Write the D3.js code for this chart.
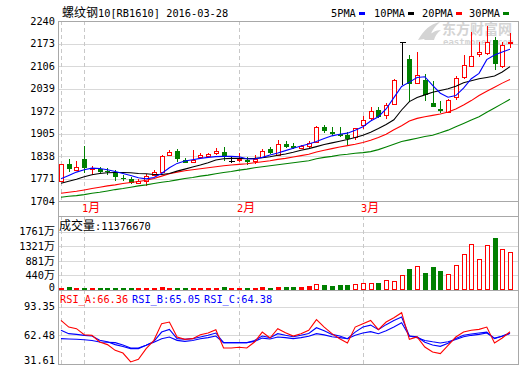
<!DOCTYPE html>
<html>
<head>
<meta charset="utf-8">
<script src="https://cdn.jsdelivr.net/npm/d3@7"></script>
<style>
body { margin: 0; background: #fff; }
svg { display: block; }
</style>
</head>
<body>
<svg id="chart" width="520" height="365"></svg>
<script>
// trading days shown (last 3 days of Dec 2015 to 2016-03-28)
const dates = [
  "2015-12-29","2015-12-30","2015-12-31",
  "2016-01-04","2016-01-05","2016-01-06","2016-01-07","2016-01-08",
  "2016-01-11","2016-01-12","2016-01-13","2016-01-14","2016-01-15",
  "2016-01-18","2016-01-19","2016-01-20","2016-01-21","2016-01-22",
  "2016-01-25","2016-01-26","2016-01-27","2016-01-28","2016-01-29",
  "2016-02-01","2016-02-02","2016-02-03","2016-02-04","2016-02-05",
  "2016-02-15","2016-02-16","2016-02-17","2016-02-18","2016-02-19",
  "2016-02-22","2016-02-23","2016-02-24","2016-02-25","2016-02-26",
  "2016-02-29",
  "2016-03-01","2016-03-02","2016-03-03","2016-03-04",
  "2016-03-07","2016-03-08","2016-03-09","2016-03-10","2016-03-11",
  "2016-03-14","2016-03-15","2016-03-16","2016-03-17","2016-03-18",
  "2016-03-21","2016-03-22","2016-03-23","2016-03-24","2016-03-25",
  "2016-03-28"
];
const open  = [1764,1813,1797,1829,1799,1799,1793,1790,1773,1770,1758,1764,1780,1789,1841,1853,1826,1820,1835,1839,1848,1849,1823,1826,1826,1822,1835,1859,1841,1874,1868,1863,1868,1881,1923,1910,1903,1900,1894,1930,1950,1975,1960,1993,2176,2126,2056,2064,1997,1977,1970,2013,2074,2107,2141,2144,2183,2107,2174];
const high  = [1815,1829,1824,1868,1808,1805,1801,1796,1781,1776,1769,1783,1796,1842,1856,1858,1831,1856,1848,1846,1861,1864,1836,1846,1834,1841,1860,1866,1886,1884,1878,1872,1883,1927,1929,1923,1923,1910,1922,1957,1983,1983,1997,2066,2176,2139,2149,2082,2060,2003,2007,2076,2139,2207,2178,2225,2193,2176,2203];
const low   = [1762,1791,1794,1788,1781,1786,1781,1764,1764,1755,1755,1750,1779,1787,1839,1821,1816,1816,1828,1836,1842,1824,1816,1821,1811,1813,1832,1843,1839,1861,1858,1860,1858,1879,1906,1898,1894,1871,1885,1918,1945,1950,1947,1990,2049,2000,2054,2003,1983,1965,1968,2005,2066,2104,2134,2140,2094,2100,2159];
const close = [1813,1799,1805,1801,1803,1791,1789,1776,1770,1758,1763,1778,1789,1838,1851,1828,1818,1825,1842,1845,1853,1834,1823,1830,1820,1828,1853,1848,1874,1866,1862,1868,1876,1923,1913,1903,1898,1888,1920,1945,1973,1955,1989,2064,2176,2051,2079,2020,1983,1973,2005,2069,2109,2136,2147,2178,2112,2169,2178];
// volume, unit 万
const volume = [40,90,40,50,40,40,40,40,40,40,40,50,50,90,50,50,40,40,40,40,40,90,40,40,40,60,100,70,90,90,90,90,120,180,160,120,150,150,170,200,200,210,300,270,440,635,725,513,695,574,483,745,1087,1380,927,1350,1570,1229,1138];
const ma5  = [1770,1780,1790,1797,1802,1801,1797,1792,1786,1780,1773,1770,1774,1786,1803,1816,1823,1827,1831,1834,1836,1837,1837,1836,1830,1829,1834,1841,1847,1854,1861,1868,1874,1881,1890,1898,1903,1906,1915,1925,1942,1955,1978,2012,2045,2058,2072,2074,2048,2025,2013,2018,2040,2068,2084,2125,2139,2148,2156];
const ma10 = [1757,1763,1769,1776,1782,1786,1788,1789,1789,1788,1786,1785,1783,1783,1786,1793,1799,1805,1811,1818,1826,1830,1831,1831,1830,1831,1833,1836,1840,1844,1849,1855,1860,1866,1872,1877,1882,1887,1893,1900,1909,1920,1932,1946,1975,2000,2012,2020,2028,2033,2038,2046,2056,2062,2068,2072,2076,2088,2104];
const ma20 = [1727,1730,1733,1737,1741,1745,1749,1752,1756,1759,1762,1766,1771,1778,1785,1790,1794,1797,1800,1803,1806,1809,1811,1813,1815,1818,1821,1824,1828,1831,1835,1839,1843,1850,1855,1860,1865,1869,1873,1878,1885,1893,1903,1916,1928,1942,1950,1955,1959,1963,1969,1978,1990,2003,2018,2031,2043,2055,2066];
const ma30 = [1715,1718,1720,1723,1727,1730,1734,1738,1741,1745,1749,1752,1756,1760,1763,1767,1771,1774,1778,1781,1785,1789,1792,1796,1799,1803,1806,1809,1812,1815,1818,1821,1824,1830,1834,1837,1841,1843,1846,1848,1851,1857,1865,1873,1881,1886,1891,1896,1900,1907,1915,1925,1935,1945,1955,1968,1981,1994,2007];
const rsiA = [78.6,71.4,69.7,63.2,62.5,55.3,52.5,46.3,43.4,33.8,36.7,48.2,57.1,75.1,76.8,60.7,58.2,58.9,63.2,65.0,68.6,48.8,48.8,49.6,48.8,55.3,66.0,59.6,69.7,65.3,61.7,64.3,67.9,79.4,71.4,64.3,58.9,54.2,71.4,75.1,78.6,68.6,76.8,81.5,86.9,58.2,60.7,49.9,44.5,42.8,51.7,60.7,66.0,67.9,68.9,71.4,54.2,59.6,66.36];
const rsiB = [67.9,64.3,63.5,62.5,61.7,57.1,55.5,52.5,50.5,48.2,48.2,51.7,56.0,66.0,68.9,58.9,58.2,58.9,60.7,62.5,65.0,54.6,54.6,54.6,54.6,57.0,61.7,60.0,64.3,62.5,61.0,62.5,64.5,70.7,67.5,63.5,61.7,58.9,66.0,71.4,73.5,68.6,74.0,78.5,82.2,61.7,61.0,55.0,52.0,50.6,54.0,59.0,62.5,64.0,65.0,66.0,58.9,61.7,65.05];
const rsiC = [58.9,58.5,58.2,57.8,57.0,55.3,55.0,54.6,52.0,48.8,48.8,51.7,55.0,58.9,60.7,57.1,56.0,57.0,58.9,60.0,61.7,54.6,54.6,54.6,54.6,56.0,59.5,58.5,60.7,60.0,59.0,60.0,61.5,64.3,63.0,61.0,60.0,58.9,62.5,65.0,66.5,64.3,67.5,71.5,76.1,61.7,60.0,57.0,55.5,54.2,55.5,58.0,61.0,62.5,63.5,65.0,59.5,61.5,64.38];

const priceTicks = [1704,1771,1838,1905,1972,2039,2106,2173,2240];
const volTicks = [0,440,881,1321,1761];
const rsiTicks = [31.61,62.48,93.35];
const monthDays = ["2015-12-29","2016-01-04","2016-02-01","2016-03-01"];
const monthLabels = ["","1月","2月","3月"];

const RED = "#ff0000", GREEN = "#008000", BLUE = "#0000ff", BLACK = "#000";
const left = 58, right = 518;
const pTop = 21, pBot = 201, vTop = 216, vBot = 290, rTop = 290, rBot = 364;

const svg = d3.select("#chart");

// chinese glyphs wide, ascii in a narrow mono face
function mixed(sel, str, cjkSize) {
  sel.text(null);
  str.split(/([\u3400-\u9fff]+)/).filter(s => s).forEach(s => {
    const cjk = /[\u3400-\u9fff]/.test(s);
    sel.append("tspan")
      .attr("font-family", cjk ? "'Noto Sans CJK SC'" : "'DejaVu Sans Mono'")
      .attr("font-size", cjk ? (cjkSize || 12) : 10.3)
      .text(s);
  });
}

const x = d3.scalePoint().domain(dates).range([61, 510]);
const yP = d3.scaleLinear().domain([1704, 2240]).range([pBot, pTop]);
const yV = d3.scaleLinear().domain([0, 1761]).range([vBot, 231.7]);
const yR = d3.scaleLinear().domain([31.61, 93.35]).range([rBot, 306.7]);
const cx = d => Math.round(x(d)) + 0.5;

// watermark
const wm = svg.append("g").attr("fill", "#d4d4d4");
wm.append("path").attr("d", "M418,40 C424,30 430,24 440,22 C434,27 431,32 430,38 Z M424,40 C430,33 436,30 441,30 C437,33 435,36 434,40 Z");
wm.append("text").attr("x", 442).attr("y", 34).attr("font-family", "'Noto Sans CJK SC'")
  .attr("font-size", 14).attr("font-weight", "bold").text("东方财富网");
wm.append("text").attr("x", 443).attr("y", 45).attr("font-family", "'DejaVu Sans Mono'")
  .attr("font-size", 9).attr("font-weight", "bold").text("eastmoney.com");

// grids + tick labels
function grid(scale, ticks, fmt, shift) {
  const g = svg.append("g").attr("transform", `translate(${left},0)`)
    .call(d3.axisLeft(scale).tickValues(ticks).tickSize(-(right - left)).tickPadding(3));
  g.select(".domain").remove();
  g.selectAll(".tick line").attr("stroke", "#d9d9d9").attr("shape-rendering", "crispEdges");
  g.selectAll(".tick text").attr("fill", BLACK).each(function(d, i) {
    mixed(d3.select(this), fmt(d), 11);
    if (shift) d3.select(this).attr("dy", shift(d, i));
  });
  return g;
}
grid(yP, priceTicks, d => String(d));
grid(yV, volTicks, d => d === 0 ? "0" : d + "万", d => d === 0 ? "0em" : "0.32em");
grid(yR, rsiTicks, d => d.toFixed(2), d => d === 31.61 ? "-0.08em" : "0.32em");

// month dashed lines
const monthX = monthDays.map(d => cx(d));
[[pTop, pBot], [vTop, vBot], [rTop, rBot]].forEach(([a, b]) => {
  svg.append("g").selectAll("line").data(monthX).join("line")
    .attr("x1", d => d).attr("x2", d => d).attr("y1", a).attr("y2", b)
    .attr("stroke", "#c8c8c8").attr("stroke-dasharray", "4,3");
});
svg.append("g").selectAll("text").data(monthDays).join("text")
  .attr("x", d => cx(d) - 2.5).attr("y", 212).attr("fill", RED)
  .each(function(d, i) { mixed(d3.select(this), monthLabels[i]); });

// frame
const frame = svg.append("g").attr("stroke", "#a8a8a8").attr("shape-rendering", "crispEdges");
[pTop, pBot, vTop, vBot, rBot].forEach(yy => frame.append("line")
  .attr("x1", left).attr("x2", right).attr("y1", yy + 0.5).attr("y2", yy + 0.5));
[left, right].forEach(xx => frame.append("line")
  .attr("x1", xx + 0.5).attr("x2", xx + 0.5).attr("y1", pTop).attr("y2", rBot + 1));

// candles
const bars = dates.map((d, i) => ({ d, o: open[i], h: high[i], l: low[i], c: close[i], v: volume[i] }));
const colorOf = b => b.c > b.o ? RED : b.c < b.o ? GREEN : BLACK;
const cg = svg.append("g").attr("shape-rendering", "crispEdges");
cg.selectAll("line.wick").data(bars).join("line").attr("class", "wick")
  .attr("x1", b => cx(b.d)).attr("x2", b => cx(b.d))
  .attr("y1", b => yP(b.h)).attr("y2", b => yP(b.l))
  .attr("stroke", colorOf);
cg.selectAll("rect.up").data(bars.filter(b => b.c > b.o)).join("rect").attr("class", "up")
  .attr("x", b => cx(b.d) - 2).attr("width", 4)
  .attr("y", b => Math.round(yP(b.c)) + 0.5)
  .attr("height", b => Math.max(1, Math.round(yP(b.o)) - Math.round(yP(b.c))))
  .attr("fill", "#fff").attr("stroke", RED);
cg.selectAll("rect.dn").data(bars.filter(b => b.c < b.o)).join("rect").attr("class", "dn")
  .attr("x", b => cx(b.d) - 2.5).attr("width", 5)
  .attr("y", b => Math.round(yP(b.o)))
  .attr("height", b => Math.max(1, Math.round(yP(b.c)) - Math.round(yP(b.o))))
  .attr("fill", GREEN);
cg.selectAll("line.doji").data(bars.filter(b => b.c === b.o)).join("line").attr("class", "doji")
  .attr("x1", b => cx(b.d) - 3).attr("x2", b => cx(b.d) + 3)
  .attr("y1", b => Math.round(yP(b.c)) + 0.5).attr("y2", b => Math.round(yP(b.c)) + 0.5)
  .attr("stroke", BLACK);

// moving averages
const line = d3.line().x((v, i) => x(dates[i])).y(v => yP(v));
[[ma30, GREEN], [ma20, RED], [ma10, BLACK], [ma5, BLUE]].forEach(([s, col]) => {
  svg.append("path").attr("d", line(s)).attr("fill", "none").attr("stroke", col).attr("stroke-width", 1.1);
});

// title + legend
svg.append("text").attr("x", 62).attr("y", 17).attr("fill", BLACK)
  .call(t => mixed(t, "螺纹钢10[RB1610] 2016-03-28"));
const legend = [["5PMA", BLUE, 331], ["10PMA", BLACK, 374], ["20PMA", RED, 422], ["30PMA", GREEN, 469]];
legend.forEach(([name, col, lx]) => {
  svg.append("text").attr("x", lx).attr("y", 17).attr("fill", BLACK).call(t => mixed(t, name));
  svg.append("rect").attr("x", lx + name.length * 6 + 4).attr("y", 12).attr("width", 6).attr("height", 3).attr("fill", col);
});

// volume
svg.append("text").attr("x", 59).attr("y", 230).attr("fill", BLACK)
  .call(t => mixed(t, "成交量:11376670"));
const vg = svg.append("g").attr("shape-rendering", "crispEdges");
vg.selectAll("rect.vup").data(bars.filter(b => b.c >= b.o)).join("rect").attr("class", "vup")
  .attr("x", b => cx(b.d) - 2).attr("width", 4)
  .attr("y", b => Math.min(vBot - 2, Math.round(yV(b.v))) + 0.5)
  .attr("height", b => Math.max(1, vBot - 1 - Math.min(vBot - 2, Math.round(yV(b.v)))))
  .attr("fill", b => yV(b.v) > vBot - 4 ? RED : "#fff").attr("stroke", RED);
vg.selectAll("rect.vdn").data(bars.filter(b => b.c < b.o)).join("rect").attr("class", "vdn")
  .attr("x", b => cx(b.d) - 2.5).attr("width", 5)
  .attr("y", b => Math.min(vBot - 2, Math.round(yV(b.v))))
  .attr("height", b => vBot - Math.min(vBot - 2, Math.round(yV(b.v))))
  .attr("fill", GREEN);

// RSI
const rline = d3.line().x((v, i) => x(dates[i])).y(v => yR(v));
[[rsiC, BLUE], [rsiB, BLUE], [rsiA, RED]].forEach(([s, col]) => {
  svg.append("path").attr("d", rline(s)).attr("fill", "none").attr("stroke", col).attr("stroke-width", 1.1);
});
const rsiLabels = [["RSI_A:" + rsiA[rsiA.length - 1].toFixed(2), RED, 60],
                   ["RSI_B:" + rsiB[rsiB.length - 1].toFixed(2), BLUE, 132],
                   ["RSI_C:" + rsiC[rsiC.length - 1].toFixed(2), BLUE, 204]];
rsiLabels.forEach(([t, col, lx]) => {
  svg.append("text").attr("x", lx).attr("y", 303).attr("fill", col).call(s => mixed(s, t));
});
</script>
</body>
</html>
